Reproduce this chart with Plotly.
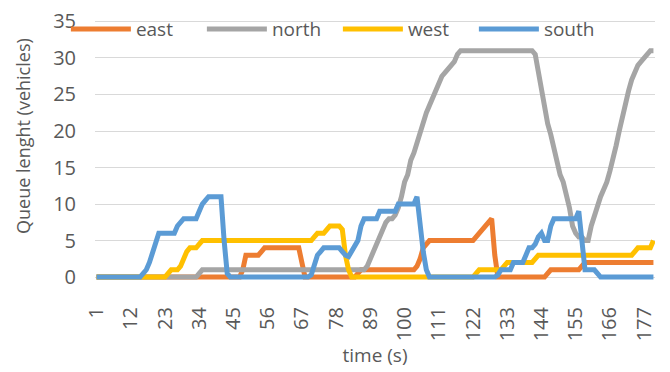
import plotly.graph_objects as go

# Simulation time steps (s)
time_s = list(range(1, 181))

# Queue length per approach (vehicles), one value per time step
east = [
    0, 0, 0, 0, 0, 0, 0, 0, 0, 0,
    0, 0, 0, 0, 0, 0, 0, 0, 0, 0,
    0, 0, 0, 0, 0, 0, 0, 0, 0, 0,
    0, 0, 0, 0, 0, 0, 0, 0, 0, 0,
    0, 0, 0, 0, 0, 0, 0, 1, 3, 3,
    3, 3, 3, 3.5, 4, 4, 4, 4, 4, 4,
    4, 4, 4, 4, 4, 4, 2, 0, 0, 0,
    0, 0, 0, 0, 0, 0, 0, 0, 0, 0,
    0, 0, 0, 0, 0.5, 1, 1, 1, 1, 1,
    1, 1, 1, 1, 1, 1, 1, 1, 1, 1,
    1, 1, 1, 1.5, 2.5, 4, 4.5, 5, 5, 5,
    5, 5, 5, 5, 5, 5, 5, 5, 5, 5,
    5, 5, 5.5, 6, 6.5, 7, 7.5, 8, 3, 0,
    0, 0, 0, 0, 0, 0, 0, 0, 0, 0,
    0, 0, 0, 0, 0, 0.5, 1, 1, 1, 1,
    1, 1, 1, 1, 1, 1, 1.5, 2, 2, 2,
    2, 2, 2, 2, 2, 2, 2, 2, 2, 2,
    2, 2, 2, 2, 2, 2, 2, 2, 2, 2,
]

north = [
    0, 0, 0, 0, 0, 0, 0, 0, 0, 0,
    0, 0, 0, 0, 0, 0, 0, 0, 0, 0,
    0, 0, 0, 0, 0, 0, 0, 0, 0, 0,
    0, 0, 0, 0.5, 1, 1, 1, 1, 1, 1,
    1, 1, 1, 1, 1, 1, 1, 1, 1, 1,
    1, 1, 1, 1, 1, 1, 1, 1, 1, 1,
    1, 1, 1, 1, 1, 1, 1, 1, 1, 1,
    1, 1, 1, 1, 1, 1, 1, 1, 1, 1,
    1, 1, 1, 1, 1, 1, 1, 1.5, 2.5, 3.5,
    4.5, 5.5, 6.5, 7.5, 8, 8, 8.5, 9.5, 11, 13,
    14, 16, 17, 18.5, 20, 21, 22.5, 23.5, 24.5, 25.5,
    26.5, 27.5, 28, 28.5, 29, 29.5, 30.5, 31, 31, 31,
    31, 31, 31, 31, 31, 31, 31, 31, 31, 31,
    31, 31, 31, 31, 31, 31, 31, 31, 31, 31,
    31, 30.5, 28, 25, 23, 21, 19.5, 17.5, 15.5, 14,
    13, 11.5, 9.5, 7, 6, 5.5, 5.5, 5, 5, 7,
    8.5, 9.5, 11, 12, 13, 14.5, 16, 18, 20, 22,
    23.5, 25.5, 27, 28, 29, 29.5, 30, 30.5, 31, 31,
]

west = [
    0, 0, 0, 0, 0, 0, 0, 0, 0, 0,
    0, 0, 0, 0, 0, 0, 0, 0, 0, 0,
    0, 0, 0, 0.5, 1, 1, 1, 1.5, 2.5, 3.5,
    4, 4, 4, 4.5, 5, 5, 5, 5, 5, 5,
    5, 5, 5, 5, 5, 5, 5, 5, 5, 5,
    5, 5, 5, 5, 5, 5, 5, 5, 5, 5,
    5, 5, 5, 5, 5, 5, 5, 5, 5, 5,
    5.5, 6, 6, 6, 6.5, 7, 7, 7, 7, 6.5,
    3, 1, 0, 0, 0, 0, 0, 0, 0, 0,
    0, 0, 0, 0, 0, 0, 0, 0, 0, 0,
    0, 0, 0, 0, 0, 0, 0, 0, 0, 0,
    0, 0, 0, 0, 0, 0, 0, 0, 0, 0,
    0, 0, 0.5, 1, 1, 1, 1, 1, 1, 1,
    1, 1.5, 2, 2, 2, 2, 2, 2, 2, 2,
    2, 2.5, 3, 3, 3, 3, 3, 3, 3, 3,
    3, 3, 3, 3, 3, 3, 3, 3, 3, 3,
    3, 3, 3, 3, 3, 3, 3, 3, 3, 3,
    3, 3, 3, 3.5, 4, 4, 4, 4, 4, 5,
]

south = [
    0, 0, 0, 0, 0, 0, 0, 0, 0, 0,
    0, 0, 0, 0, 0, 0.5, 1, 2, 3.5, 5,
    6, 6, 6, 6, 6, 6, 7, 7.5, 8, 8,
    8, 8, 8, 9, 10, 10.5, 11, 11, 11, 11,
    11, 5, 0.5, 0, 0, 0, 0, 0, 0, 0,
    0, 0, 0, 0, 0, 0, 0, 0, 0, 0,
    0, 0, 0, 0, 0, 0, 0, 0, 0, 0.3,
    2, 3, 3.5, 4, 4, 4, 4, 4, 4, 3.5,
    3, 2.8, 3.5, 4.5, 5, 7, 8, 8, 8, 8,
    8, 9, 9, 9, 9, 9, 9, 10, 10, 10,
    10, 10, 10, 11, 7, 3.5, 1, 0, 0, 0,
    0, 0, 0, 0, 0, 0, 0, 0, 0, 0,
    0, 0, 0, 0, 0, 0, 0, 0, 0, 0.3,
    1, 1, 1, 1, 2, 2, 2, 2, 3, 4,
    4, 4.5, 5.5, 6, 5, 5, 7, 8, 8, 8,
    8, 8, 8, 8, 8, 9, 4, 1, 1, 1,
    1, 0.5, 0, 0, 0, 0, 0, 0, 0, 0,
    0, 0, 0, 0, 0, 0, 0, 0, 0, 0,
]

# Labelled time steps on the category axis
tick_labels = [1, 12, 23, 34, 45, 56, 67, 78, 89, 100, 111, 122, 133, 144, 155, 166, 177]

series = [
    ("east", east, "#ED7D31"),
    ("north", north, "#A5A5A5"),
    ("west", west, "#FFC000"),
    ("south", south, "#5B9BD5"),
]

FONT = "Open Sans"
TEXT = "#595959"

fig = go.Figure()
for name, values, color in series:
    fig.add_trace(go.Scatter(
        x=time_s, y=values, name=name, mode="lines",
        line=dict(color=color, width=5),
        hoverinfo="skip",
    ))

fig.update_layout(
    width=670, height=372,
    margin=dict(l=95, r=15, t=20, b=92, autoexpand=False),
    paper_bgcolor="white", plot_bgcolor="white",
    font=dict(family=FONT, size=19, color=TEXT),
    showlegend=True,
    legend=dict(
        orientation="h", x=-0.052, xanchor="left", y=1.038, yanchor="top",
        bgcolor="rgba(0,0,0,0)", borderwidth=0,
        font=dict(family=FONT, size=19, color=TEXT),
        itemwidth=60, tracegroupgap=0,
        entrywidth=61, entrywidthmode="pixels",
    ),
    annotations=[dict(
        text="Queue lenght (vehicles)", textangle=-90,
        xref="paper", yref="paper", x=-0.1286, y=0.554,
        xanchor="center", yanchor="middle", showarrow=False,
        font=dict(family=FONT, size=18, color=TEXT),
    )],
)

fig.update_xaxes(
    range=[0.5, 180.5],
    tickmode="array", tickvals=tick_labels, ticktext=[str(v) for v in tick_labels],
    tickangle=-90, showgrid=False, zeroline=False, showline=False,
    ticks="", ticklabelstandoff=22,
    tickfont=dict(family=FONT, size=20, color=TEXT),
    title=dict(text="time (s)", standoff=8, font=dict(family=FONT, size=19, color=TEXT)),
)

fig.update_yaxes(
    range=[-0.4, 35.2], tick0=0, dtick=5,
    showgrid=True, gridcolor="#D9D9D9", gridwidth=1.3,
    zeroline=False, showline=False, ticks="", ticklabelstandoff=18,
    tickfont=dict(family=FONT, size=20, color=TEXT),
)

fig.write_html("out.html")
